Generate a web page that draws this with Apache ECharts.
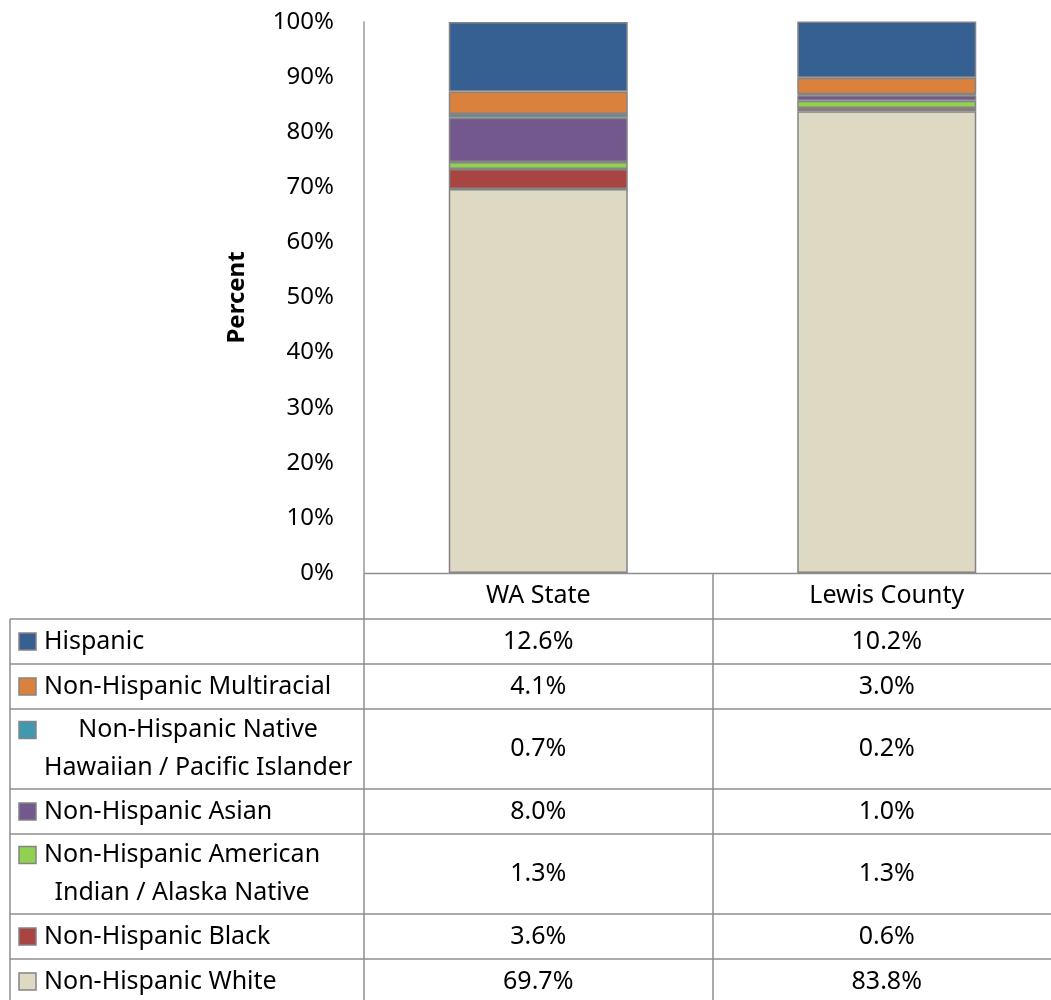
<!DOCTYPE html>
<html>
<head>
<meta charset="utf-8">
<script src="https://cdn.jsdelivr.net/npm/echarts@6/dist/echarts.min.js"></script>
<style>
html, body { margin: 0; padding: 0; background: #fff; overflow: hidden; }
#main { width: 1061px; height: 1000px; }
</style>
</head>
<body>
<div id="main"></div>
<script>
// data, bottom of the stack first
var categories = ['WA State', 'Lewis County'];
var groups = [
    'Non-Hispanic White',
    'Non-Hispanic Black',
    'Non-Hispanic American\nIndian / Alaska Native',
    'Non-Hispanic Asian',
    'Non-Hispanic Native\nHawaiian / Pacific Islander',
    'Non-Hispanic Multiracial',
    'Hispanic'
];
var waState = [69.7, 3.6, 1.3, 8.0, 0.7, 4.1, 12.6];
var lewisCounty = [83.8, 0.6, 1.3, 1.0, 0.2, 3.0, 10.2];
var colors = ['#DDD9C3', '#A84442', '#92D050', '#72588C', '#4198AF', '#D9813D', '#366092'];

var FONT = '"Noto Sans", sans-serif';
var lineColor = '#8e8e8e';

var chart = echarts.init(document.getElementById('main'));

var series = groups.map(function (g, i) {
    return {
        name: g,
        type: 'bar',
        stack: 'total',
        barWidth: 179,
        data: [waState[i], lewisCounty[i]],
        itemStyle: {
            color: colors[i],
            borderColor: '#848484',
            borderWidth: 1.5
        }
    };
});

// plot runs a little past the right edge of the picture, as in the original
chart.setOption({
    animation: false,
    grid: { left: 364, top: 22, width: 697, height: 551 },
    xAxis: {
        type: 'category',
        data: categories,
        axisLine: { show: false },
        axisTick: { show: false },
        axisLabel: { show: false }
    },
    yAxis: {
        type: 'value',
        min: 0,
        max: 100,
        interval: 10,
        name: 'Percent',
        nameLocation: 'middle',
        nameGap: 115,
        nameTextStyle: { fontFamily: FONT, fontSize: 24, fontWeight: 'bold', color: '#000' },
        axisLine: { show: true, lineStyle: { color: '#999', width: 1.5 } },
        axisTick: { show: false },
        splitLine: { show: false },
        axisLabel: {
            formatter: '{value}%',
            margin: 30,
            fontFamily: FONT,
            fontSize: 24,
            color: '#000'
        }
    },
    series: series
});

// data table under the plot
var ctx = document.createElement('canvas').getContext('2d');
ctx.font = '25px ' + FONT;
function textWidth(s) {
    return Math.max.apply(null, s.split('\n').map(function (l) { return ctx.measureText(l).width; }));
}

var colX = categories.map(function (c) { return chart.convertToPixel({ xAxisIndex: 0 }, c); });
var divX = Math.round((colX[0] + colX[1]) / 2);
var axisX = 364;
var rightX = 1061;
var tableTop = 573.5;
var headerBottom = 619;
var elements = [];

function hline(y, x1, x2) {
    elements.push({ type: 'line', shape: { x1: x1, y1: y, x2: x2, y2: y }, style: { stroke: lineColor, lineWidth: 1.5 } });
}
function vline(x, y1, y2) {
    elements.push({ type: 'line', shape: { x1: x, y1: y1, x2: x, y2: y2 }, style: { stroke: lineColor, lineWidth: 1.5 } });
}
function text(s, x, y, align) {
    elements.push({
        type: 'text',
        style: {
            text: s, x: x, y: y, fill: '#000',
            font: '25px ' + FONT,
            lineHeight: 38,
            textAlign: align, textVerticalAlign: 'middle'
        }
    });
}

hline(tableTop, axisX, rightX);
categories.forEach(function (c, j) { text(c, colX[j], (tableTop + headerBottom) / 2, 'center'); });

var y = headerBottom;
hline(y, 10, rightX);
for (var i = groups.length - 1; i >= 0; i--) {
    var nLines = groups[i].split('\n').length;
    var h = 45 + (nLines - 1) * 35;
    var mid = y + h / 2;
    var firstLine = mid - (nLines - 1) * 19;
    elements.push({
        type: 'rect',
        shape: { x: 19, y: firstLine - 8.5, width: 17, height: 17 },
        style: { fill: colors[i], stroke: '#848484', lineWidth: 1.5 }
    });
    text(groups[i], 44 + textWidth(groups[i]) / 2, mid, 'center');
    text(waState[i].toFixed(1) + '%', colX[0], mid, 'center');
    text(lewisCounty[i].toFixed(1) + '%', colX[1], mid, 'center');
    y += h;
    hline(y, 10, rightX);
}
vline(axisX, tableTop, y);
vline(divX, tableTop, y);
vline(10, headerBottom, y);

chart.setOption({ graphic: { elements: elements } });
</script>
</body>
</html>
